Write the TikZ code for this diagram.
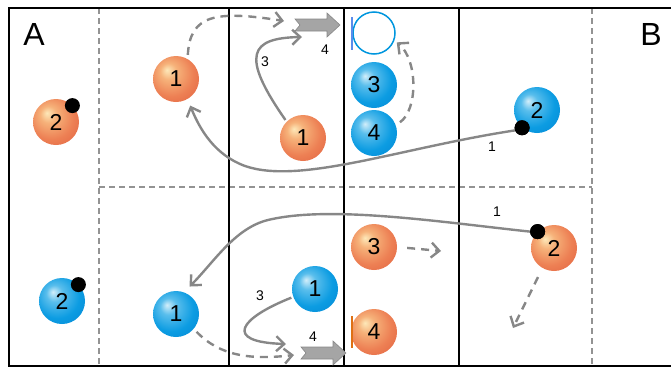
\documentclass[tikz,border=0pt]{standalone}
\usepackage{fontspec}
\setmainfont{Liberation Sans}
\usetikzlibrary{arrows.meta}
\definecolor{peachhi}{RGB}{253,232,185}
\definecolor{peachmid}{RGB}{246,178,122}
\definecolor{peach}{RGB}{237,128,84}
\definecolor{peachedge}{RGB}{222,88,58}
\definecolor{skyhi}{RGB}{210,238,250}
\definecolor{skymid}{RGB}{90,190,236}
\definecolor{sky}{RGB}{12,156,226}
\definecolor{skyedge}{RGB}{0,128,208}
\definecolor{ringblue}{RGB}{0,150,222}
\definecolor{barblue}{RGB}{90,140,235}
\definecolor{rust}{RGB}{222,112,20}
\definecolor{slate}{RGB}{135,135,135}
\pgfdeclareradialshading{peachball}{\pgfpoint{-10bp}{10bp}}{color(0bp)=(peachhi); color(9bp)=(peachmid); color(24bp)=(peach); color(44bp)=(peachedge); color(50bp)=(peachedge)}
\pgfdeclareradialshading{skyball}{\pgfpoint{-10bp}{10bp}}{color(0bp)=(skyhi); color(9bp)=(skymid); color(24bp)=(sky); color(44bp)=(skyedge); color(50bp)=(skyedge)}
\tikzset{
  ball/.style={circle,shading=#1,minimum size=46pt,inner sep=0pt,
    font=\fontsize{23}{23}\selectfont},
  ball/.default=peachball,
  dot/.style={circle,fill=black,minimum size=15pt,inner sep=0pt},
  frame/.style={line width=2.4pt,black},
  grid/.style={slate!90,line width=1.3pt,dash pattern=on 6pt off 4pt},
  pass/.style={draw=slate,line width=2.4pt,-{Straight Barb[length=8pt,width=15pt]}},
  run/.style={pass,dash pattern=on 8pt off 6pt},
  tag/.style={font=\fontsize{14}{14}\selectfont},
  side/.style={font=\fontsize{32}{32}\selectfont},
  % fat arrow
  pics/fatarrow/.style={code={
    \filldraw[fill=slate!75,draw=slate,line width=0.6pt] (0,-6) -- (32,-6) -- (32,-12) -- (45,0)
      -- (32,12) -- (32,6) -- (0,6) -- (5,0) -- cycle;
  }},
}
\begin{document}
\begin{tikzpicture}[x=1pt,y=-1pt]
  \useasboundingbox (0,0) rectangle (671,367);
  % field
  \draw[grid] (99,8) -- (99,366) (592,8) -- (592,366) (99,187) -- (592,187);
  \draw[frame] (671,8) -- (9,8) -- (9,366) -- (671,366);
  \foreach \x in {229,344,459} \draw[frame] (\x,8) -- (\x,366);
  \node[side] (sideA) at (34,34) {A};
  \node[side] (sideB) at (651,34) {B};

  % players
  \node[ball] (o2A) at (56,122) {2};
  \node[dot] (d2A) at (o2A.45) {};
  \node[ball] (o1A) at (176,79) {1};
  \node[ball] (o1B) at (303,138) {1};
  \node[ball=skyball] (b3) at (374,85) {3};
  \node[ball=skyball] (b4) at (374,133) {4};
  \node[circle,draw=ringblue,line width=1.5pt,minimum size=42pt,inner sep=0pt] (ring) at (374,33) {};
  \draw[barblue,line width=2pt] (352,17) -- (352,50);
  \node[ball=skyball] (b2B) at (537,110) {2};
  \node[dot] (d2B) at (b2B.-130) {};

  \node[ball=skyball] (b2A) at (62,301) {2};
  \node[dot] (d2D) at (b2A.45) {};
  \node[ball=skyball] (b1A) at (176,314) {1};
  \node[ball=skyball] (b1B) at (315,289) {1};
  \node[ball] (o3) at (374,247) {3};
  \node[ball] (o4) at (374,332) {4};
  \draw[rust,line width=2.5pt] (352,316) -- (352,348);
  \node[ball] (o2B) at (554,248) {2};
  \node[dot] (d2C) at (o2B.135) {};

  % free ends
  \coordinate (tA) at (284,21);
  \coordinate (tC) at (302,37);
  \coordinate (tB) at (294,355);
  \coordinate (tD) at (286,344);
  \coordinate (t3) at (441,251);
  \coordinate (t2) at (513,328);

  \pic at (295,25) {fatarrow};
  \pic at (301,353) {fatarrow};

  % top half
  \draw[pass,shorten >=7pt] (d2B.200) .. controls (400,148) and (300,185) .. (245,166)
    .. controls (215,155) and (200,130) .. (o1A.-60);
  \draw[run,shorten <=4pt] (o1A.60) .. controls (190,15) and (215,10) .. (tA);
  \draw[pass,shorten <=2pt] (o1B.135) .. controls (240,55) and (250,38) .. (tC);
  \draw[run,shorten <=5pt,shorten >=3pt] (b4.20) .. controls (418,110) and (418,60) .. (ring.-20);
  \node[tag] (l1a) at (492,147) {1};
  \node[tag] (l3a) at (265,62) {3};
  \node[tag] (l4a) at (325,50) {4};

  % bottom half
  \draw[pass,shorten >=8pt] (d2C.180) .. controls (440,222) and (330,205) .. (268,220)
    .. controls (235,228) and (214,262) .. (b1A.70);
  \draw[run,shorten <=4pt] (b1A.-40) .. controls (220,356) and (250,360) .. (tB);
  \draw[pass,shorten <=2pt] (b1B.200) .. controls (240,318) and (222,342) .. (tD);
  \draw[run,shorten <=10pt] (o3.east) -- (t3);
  \draw[run,shorten <=10pt] (o2B.-120) -- (t2);
  \node[tag] (l1b) at (497,212) {1};
  \node[tag] (l3b) at (260,296) {3};
  \node[tag] (l4b) at (313,337) {4};

  % dots on top of lines
  \node[dot] at (d2B) {};
  \node[dot] at (d2C) {};
\end{tikzpicture}
\end{document}
